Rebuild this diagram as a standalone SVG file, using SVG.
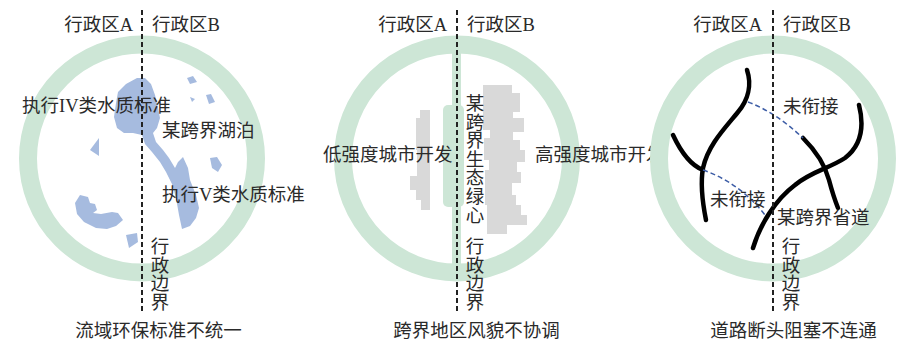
<svg xmlns="http://www.w3.org/2000/svg" width="901" height="342" viewBox="0 0 901 342">
  <style>
    text { font-family: "Liberation Serif", "Noto Sans CJK SC", serif; font-size: 18.5px; fill: #2a2a2a; }
    .mid { text-anchor: middle; }
    .end { text-anchor: end; }
    .ring { fill: none; stroke: #cde6d6; stroke-width: 18; }
    .band { fill: #cde6d6; }
    .border { fill: none; stroke: #222; stroke-width: 2; stroke-dasharray: 5 3; }
    .water { fill: #a6bbdf; }
    .built { fill: #d9d9d9; }
    .road { fill: none; stroke: #000; stroke-width: 4.5; stroke-linecap: round; }
    .gap { fill: none; stroke: #3d5da6; stroke-width: 1.5; stroke-dasharray: 5 3; }
  </style>
  <rect width="901" height="342" fill="#fff"/>

  <!-- Panel 1: watershed standards -->
  <g id="panel-water">
    <circle class="ring" cx="142" cy="158.5" r="114"/>
    <g id="lake">
      <polygon class="water" points="118,92 126,84 137,78 145,78 151,84 155,95 158,108 160,118 157,128 153,133 156,142 163,150 169,158 175,168 178,162 183,157 188,168 190,180 196,195 199,208 196,218 190,226 182,229 179,215 176,198 172,184 166,172 160,162 152,152 145,144 142,135 133,133 124,133 117,128 114,117 116,103"/>
      <polygon class="water" points="187,78 193,76 197,82 190,84"/>
      <polygon class="water" points="190,97 195,99 192,102"/>
      <polygon class="water" points="206,95 211,94 215,102 209,104"/>
      <polygon class="water" points="90,150 99,138 99,156"/>
      <polygon class="water" points="210,158 217,157 222,165 218,172 212,168"/>
      <polygon class="water" points="75,203 80,195 88,197 90,203 95,204 97,210 93,213 101,214 112,212 118,213 123,220 116,226 107,229 96,228 84,222 77,214"/>
      <polygon class="water" points="126,235 137,233 138,242 129,248"/>
    </g>
    <line class="border" x1="142" y1="10" x2="142" y2="313"/>
    <text class="end" x="133" y="31">行政区A</text>
    <text x="152" y="31">行政区B</text>
    <text x="22" y="112">执行IV类水质标准</text>
    <text x="162" y="137">某跨界湖泊</text>
    <text x="162" y="201">执行V类水质标准</text>
    <text class="mid" x="160" y="253"><tspan x="160">行</tspan><tspan x="160" dy="18.5">政</tspan><tspan x="160" dy="18.5">边</tspan><tspan x="160" dy="18.5">界</tspan></text>
    <text class="mid" x="158.5" y="337">流域环保标准不统一</text>
  </g>

  <!-- Panel 2: townscape across the boundary -->
  <g id="panel-townscape">
    <circle class="ring" cx="457" cy="158.5" r="114"/>
    <rect class="band" x="452" y="45" width="9" height="222"/>
    <rect class="band" x="443" y="105" width="21" height="102" rx="5"/>
    <polygon class="built" points="420,110 430,110 430,210 421,210 421,200 416,200 416,190 410,190 410,176 417,176 417,150 416,150 416,118 420,118"/>
    <polygon class="built" points="483,85 512,85 512,93 520,93 520,112 513,112 513,118 524,118 524,132 513,132 513,140 520,140 520,150 525,150 525,162 517,162 517,172 521,172 521,183 512,183 512,195 516,195 516,205 521,205 521,215 527,215 527,225 507,225 507,234 487,234 487,205 485,205 485,170 489,170 489,160 484,160 484,138 490,138 490,130 483,130"/>
    <line class="border" x1="457" y1="10" x2="457" y2="313"/>
    <text class="end" x="447" y="31">行政区A</text>
    <text x="467" y="31">行政区B</text>
    <text x="323" y="161">低强度城市开发</text>
    <text x="535" y="161">高强度城市开发</text>
    <text class="mid" x="475" y="110"><tspan x="475">某</tspan><tspan x="475" dy="18.6">跨</tspan><tspan x="475" dy="18.6">界</tspan><tspan x="475" dy="18.6">生</tspan><tspan x="475" dy="18.6">态</tspan><tspan x="475" dy="18.6">绿</tspan><tspan x="475" dy="18.6">心</tspan></text>
    <text class="mid" x="475" y="253"><tspan x="475">行</tspan><tspan x="475" dy="18.5">政</tspan><tspan x="475" dy="18.5">边</tspan><tspan x="475" dy="18.5">界</tspan></text>
    <text class="mid" x="476.5" y="337">跨界地区风貌不协调</text>
  </g>

  <!-- Panel 3: broken road links -->
  <g id="panel-roads">
    <circle class="ring" cx="773" cy="158.5" r="114"/>
    <g id="roads">
      <path class="road" d="M747,70 C752,85 748,100 738,112 C725,128 708,145 703,168 C700,185 703,205 706,220"/>
      <path class="road" d="M673,135 C680,150 690,165 703,170"/>
      <path class="road" d="M803,138 C815,150 825,165 829,180 C833,195 836,203 838,208"/>
      <path class="road" d="M859,105 C864,125 862,145 845,158 C830,168 810,172 795,185 C775,200 760,225 753,248"/>
      <path class="gap" d="M748,102 Q775,112 803,138"/>
      <path class="gap" d="M703,170 Q740,183 765,215"/>
    </g>
    <line class="border" x1="773" y1="10" x2="773" y2="313"/>
    <text class="end" x="762" y="31">行政区A</text>
    <text x="783" y="31">行政区B</text>
    <text x="783" y="113">未衔接</text>
    <text x="710" y="206">未衔接</text>
    <text x="777" y="224">某跨界省道</text>
    <text class="mid" x="791" y="253"><tspan x="791">行</tspan><tspan x="791" dy="18.5">政</tspan><tspan x="791" dy="18.5">边</tspan><tspan x="791" dy="18.5">界</tspan></text>
    <text class="mid" x="793.5" y="337">道路断头阻塞不连通</text>
  </g>
</svg>
